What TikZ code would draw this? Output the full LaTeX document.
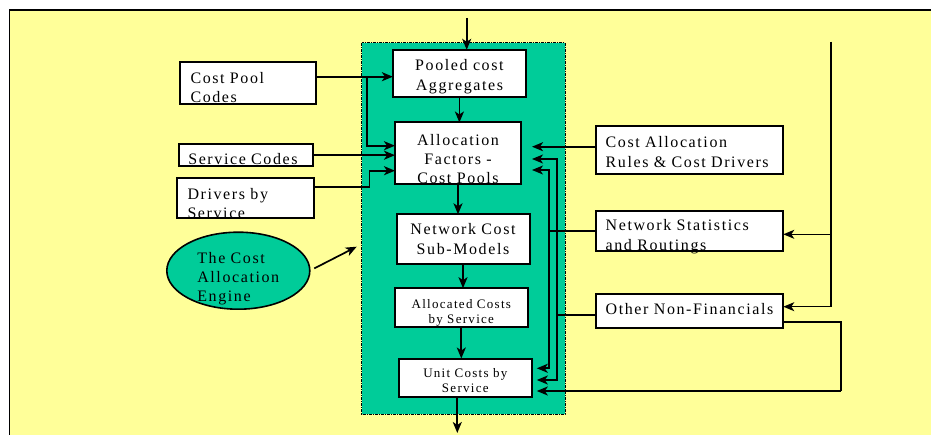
\documentclass[tikz,border=0pt]{standalone}
\usepackage{fontspec}
\setmainfont{Liberation Serif}[LetterSpace=10]
\usetikzlibrary{arrows.meta,shapes.geometric}
\definecolor{PanelGreen}{RGB}{0,204,153}
\definecolor{SheetYellow}{RGB}{255,255,153}

\begin{document}
\begin{tikzpicture}[x=1pt,y=-1pt]
  \tikzset{BoxStyle/.style = {
    shape         = rectangle,
    draw          = black,
    fill          = white,
    line width    = 2pt,
    text          = black,
    inner xsep    = 11pt,
    inner ysep    = 0pt,
    outer sep     = 0pt,
    text height   = 0pt,
    text depth    = 0pt,
    align         = left,
    font          = \fontsize{16}{19.5}\selectfont
    }
  }
  \tikzset{CenterBoxStyle/.style = {
    BoxStyle,
    inner xsep    = 2pt,
    align         = center
    }
  }
  \tikzset{SmallBoxStyle/.style = {
    CenterBoxStyle,
    font          = \fontsize{13}{15.5}\selectfont
    }
  }
  \tikzset{EngineStyle/.style = {
    shape         = ellipse,
    draw          = black,
    fill          = PanelGreen,
    line width    = 1.6pt,
    text          = black,
    inner sep     = 0pt,
    outer sep     = 0pt,
    text height   = 0pt,
    align         = left,
    font          = \fontsize{16}{19.3}\selectfont
    }
  }
  \tikzset{PanelStyle/.style = {
    draw          = black,
    fill          = PanelGreen,
    line width    = 1pt,
    dash pattern  = on 3pt off 1pt on 1pt off 1pt
    }
  }
  \tikzset{EdgeStyle/.style = {
    draw          = black,
    line width    = 1.7pt
    }
  }
  \tikzset{ArrowStyle/.style = {
    EdgeStyle,
    -{Stealth[length=11pt,width=9pt,inset=3pt]}
    }
  }

  \useasboundingbox (0,0) rectangle (931,435);
  \fill[SheetYellow] (9.5,10) rectangle (940,440);
  \draw[line width=1.5pt] (9.5,440) -- (9.5,10) -- (940,10);
  \draw[PanelStyle] (361.7,43) rectangle (565,414);

	\node[CenterBoxStyle, text width=129pt, minimum height=47pt, text depth=4.6pt](C1) at (459.4, 73.3) {Pooled cost\\Aggregates};
	\node[CenterBoxStyle, text width=122pt, minimum height=62pt, text depth=15.6pt, font=\fontsize{16}{19}\selectfont](C2) at (458, 153.5) {Allocation\\Factors -\\Cost Pools};
	\node[CenterBoxStyle, text width=129pt, minimum height=50pt, text depth=8.6pt](C3) at (463, 239.3) {Network Cost\\Sub-Models};
	\node[SmallBoxStyle, text width=129pt, minimum height=39pt, text height=1.2pt](C4) at (461.3, 307.7) {Allocated Costs\\by Service};
	\node[SmallBoxStyle, text width=129pt, minimum height=38pt, text depth=0.4pt](C5) at (465.3, 377.5) {Unit Costs by\\Service};
	\node[BoxStyle, text width=114pt, minimum height=42pt](L1) at (247.5, 83.3) {Cost Pool\\Codes};
	\node[BoxStyle, text width=116pt, inner xsep=9pt, minimum height=22pt, text height=18pt](L2) at (246.3, 155.2) {Service Codes};
	\node[BoxStyle, text width=115pt, minimum height=40pt, text height=2pt](L3) at (245, 198.3) {Drivers by\\Service};
	\node[BoxStyle, text width=167.6pt, inner xsep=10pt, minimum height=48pt, text depth=5.6pt](R1) at (689.5, 150.5) {Cost Allocation\\Rules \& Cost Drivers};
	\node[BoxStyle, text width=167.6pt, inner xsep=10pt, minimum height=40pt, text height=0.6pt](R2) at (689.5, 230.7) {Network Statistics\\and Routings};
	\node[BoxStyle, text width=167.6pt, inner xsep=10pt, minimum height=34pt, text height=7pt](R3) at (689.5, 311.5) {Other Non-Financials};
	\node[EngineStyle, text width=82pt, minimum width=143pt, minimum height=77pt, text depth=14.8pt](E1) at (238.3, 270.7) {The Cost\\Allocation\\Engine};

	\coordinate (T0) at (466.7, 18);
	\coordinate (T1) at (831, 42);
	\coordinate (T2) at (841, 391);
	\coordinate (T3) at (457.3, 433);
	\coordinate (T4) at (356.7, 246.7);
	\coordinate (J1) at (367.3, 76.7);
	\coordinate (B1) at (549.3, 230.7);
	\coordinate (B2) at (557.3, 315);

	\draw[ArrowStyle](T0) to (T0 |- C1.north);
	\draw[ArrowStyle](C1.south) to (C1.south |- C2.north);
	\draw[ArrowStyle](C2.south) to (C2.south |- C3.north);
	\draw[ArrowStyle](C3.south) to (C3.south |- C4.north);
	\draw[ArrowStyle](C4.south) to (C4.south |- C5.north);
	\draw[ArrowStyle](T3 |- C5.south) to (T3);
	\draw[ArrowStyle](L1.east |- J1) to (C1.west |- J1);
	\draw[ArrowStyle](J1) |- ([yshift=7.8pt]C2.west);
	\draw[ArrowStyle](L2.east) to (L2.east -| C2.west);
	\draw[ArrowStyle]([yshift=11.6pt]L3.east) -- ++(56,0) |- ([yshift=-17.2pt]C2.west);
	\draw[ArrowStyle, shorten <=5pt](E1.east) to (T4);
	\draw[ArrowStyle, shorten >=11pt](R1.west |- 0,146.7) to ([yshift=6.8pt]C2.east);
	\draw[EdgeStyle](R2.west) to (B1);
	\draw[ArrowStyle, shorten >=11pt](B1) |- ([yshift=-16.5pt]C2.east);
	\draw[ArrowStyle, shorten >=5pt](B1) |- ([yshift=9.2pt]C5.east);
	\draw[EdgeStyle](R3.west |- B2) to (B2);
	\draw[ArrowStyle, shorten >=11pt](B2) |- ([yshift=-5.5pt]C2.east);
	\draw[ArrowStyle, shorten >=5pt](B2) |- ([yshift=-2.5pt]C5.east);
	\draw[ArrowStyle, line width=1.3pt](T1) |- ([yshift=-3.6pt]R2.east);
	\draw[ArrowStyle, line width=1.3pt](T1) |- ([yshift=4.8pt]R3.east);
	\draw[EdgeStyle]([yshift=-10.8pt]R3.east) -| (T2);
	\draw[ArrowStyle, shorten >=5pt](T2) to ([yshift=-13.5pt]C5.east);

  \end{tikzpicture}
\end{document}
